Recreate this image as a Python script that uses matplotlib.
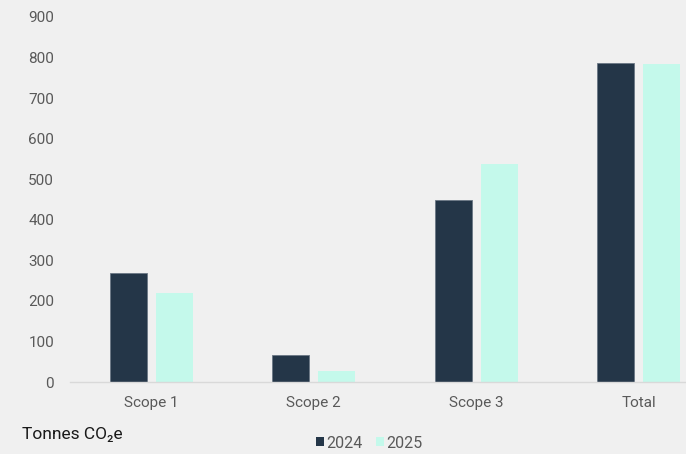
import matplotlib
matplotlib.use("Agg")
import matplotlib.pyplot as plt
import numpy as np
from matplotlib.patches import Patch

categories = ["Scope 1", "Scope 2", "Scope 3", "Total"]
values_2024 = [268, 67, 450, 786]
values_2025 = [219, 27, 538, 785]
series_names = ["2024", "2025"]
y_ticks = [0, 100, 200, 300, 400, 500, 600, 700, 800, 900]

bg = "#f0f0f0"
dark = "#243648"
mint = "#c4f9eb"
label_col = "#595959"

plt.rcParams["font.family"] = ["Roboto", "DejaVu Sans"]

W, H = 686, 454
fig = plt.figure(figsize=(W / 100, H / 100), dpi=100, facecolor=bg)

# axes spans past the right figure edge so the last group sits at the border
left_px, right_px, top_px, bottom_px = 70, 720, 17, 382
ax = fig.add_axes([left_px / W, 1 - bottom_px / H,
                   (right_px - left_px) / W, (bottom_px - top_px) / H])
ax.set_facecolor(bg)

x = np.arange(len(categories))
width = 0.226
offset = 0.1415
ax.bar(x - offset, values_2024, width, color=dark, edgecolor="#6b7785", linewidth=0.6)
ax.bar(x + offset, values_2025, width, color=mint, linewidth=0)

ax.set_xlim(-0.5, 3.5)
ax.set_ylim(0, 900)
ax.set_yticks(y_ticks)
ax.set_xticks(x)
ax.set_xticklabels(categories)

for s in ["top", "right", "left"]:
    ax.spines[s].set_visible(False)
ax.spines["bottom"].set_color("#d9d9d9")
ax.spines["bottom"].set_linewidth(1.0)
ax.tick_params(axis="both", length=0, labelsize=11, labelcolor=label_col)
ax.tick_params(axis="y", pad=11.5)
ax.tick_params(axis="x", pad=10)

fig.text(22 / W, 1 - 439 / H, "Tonnes CO\u2082e", fontsize=12.5, color="#1a1a1a",
         ha="left", va="baseline")

handles = [Patch(facecolor=dark), Patch(facecolor=mint)]
fig.legend(handles, series_names, loc="center", bbox_to_anchor=(369 / W, 1 - 443 / H),
           ncol=2, frameon=False, fontsize=11.5, labelcolor=label_col,
           handlelength=0.5, handleheight=0.5, handletextpad=0.15,
           columnspacing=0.85, borderpad=0, borderaxespad=0)

fig.savefig("out.png", dpi=100, facecolor=bg)
